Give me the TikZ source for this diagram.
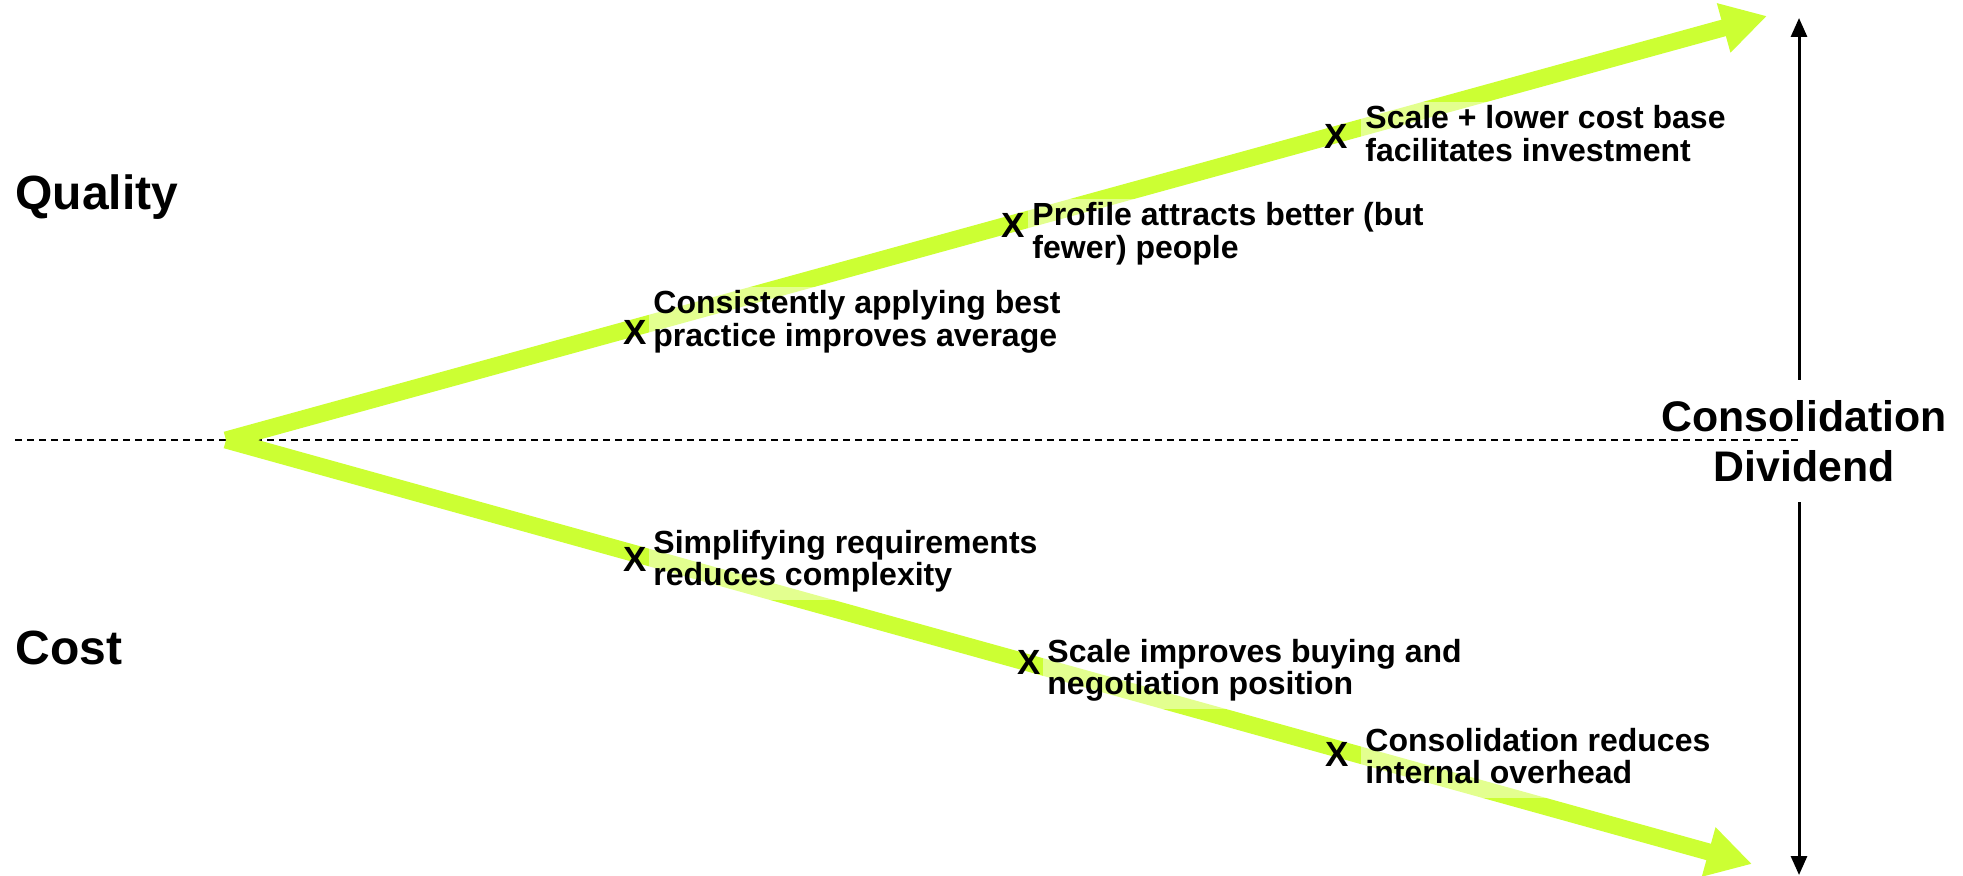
\documentclass[tikz,border=0pt]{standalone}
\usepackage{fontspec}
\setmainfont{Liberation Sans}
\usetikzlibrary{arrows.meta}
\definecolor{arrowgreen}{RGB}{204,255,51}
\begin{document}
\begin{tikzpicture}[x=0.5pt,y=-0.5pt,
  bigarrow/.style={draw=arrowgreen, line width=8.5pt, -{Triangle[length=22.5pt,width=24pt,fill=arrowgreen]}},
  midline/.style={line width=1pt, dash pattern=on 3.5pt off 2.5pt},
  varrow/.style={line width=1.5pt, -{Triangle[length=9.5pt,width=8pt]}},
  title/.style={font=\fontsize{24}{28}\selectfont\bfseries, anchor=base west, inner sep=0pt},
  lbl/.style={font=\fontsize{16}{16.2}\selectfont\bfseries, anchor=base west, inner sep=2pt,
              fill=white, fill opacity=0.45, text opacity=1},
  xmark/.style={font=\fontsize{17.5}{17.5}\selectfont\bfseries, inner sep=0pt},
  divlabel/.style={font=\fontsize{21.4}{25}\selectfont\bfseries, align=center, inner xsep=0pt, inner ysep=10pt}
]
\useasboundingbox (0,0) rectangle (1963,876);
\fill[white] (0,0) rectangle (1963,876);

% dashed centre line
\coordinate (dl) at (15,440);
\coordinate (dr) at (1798,440);
\draw[midline] (dl) -- (dr);

% green arrows
\coordinate (apex) at (226,440);
\coordinate (qtip) at (1767,16);
\coordinate (ctip) at (1752,864);
\draw[bigarrow] (apex) -- (qtip);
\draw[bigarrow] (apex) -- (ctip);

% labels
\node[lbl] (l1) at (649,314) {\begin{tabular}[t]{@{}l@{}}Consistently applying best\\practice improves average\end{tabular}};
\node[lbl] (l2) at (1028,226) {\begin{tabular}[t]{@{}l@{}}Profile attracts better (but\\fewer) people\end{tabular}};
\node[lbl] (l3) at (1361,129) {\begin{tabular}[t]{@{}l@{}}Scale + lower cost base\\facilitates investment\end{tabular}};
\node[lbl] (l4) at (649,553) {\begin{tabular}[t]{@{}l@{}}Simplifying requirements\\reduces complexity\end{tabular}};
\node[lbl] (l5) at (1043,662) {\begin{tabular}[t]{@{}l@{}}Scale improves buying and\\negotiation position\end{tabular}};
\node[lbl] (l6) at (1361,751) {\begin{tabular}[t]{@{}l@{}}Consolidation reduces\\internal overhead\end{tabular}};

% X markers
\node[xmark] (x1) at (635,332) {X};
\node[xmark] (x2) at (1013,225) {X};
\node[xmark] (x3) at (1336,136) {X};
\node[xmark] (x4) at (635,559) {X};
\node[xmark] (x5) at (1029,662) {X};
\node[xmark] (x6) at (1337,754) {X};

% consolidation dividend
\node[divlabel] (cd) at (1804,441) {Consolidation\\Dividend};
\coordinate (vtop) at (1799,18);
\coordinate (vbot) at (1799,875);
\draw[varrow] (cd.north -| vtop) -- (vtop);
\draw[varrow] (cd.south -| vbot) -- (vbot);

% titles
\node[title] (quality) at (15,210) {Quality};
\node[title] (cost) at (15,664) {Cost};
\end{tikzpicture}
\end{document}
